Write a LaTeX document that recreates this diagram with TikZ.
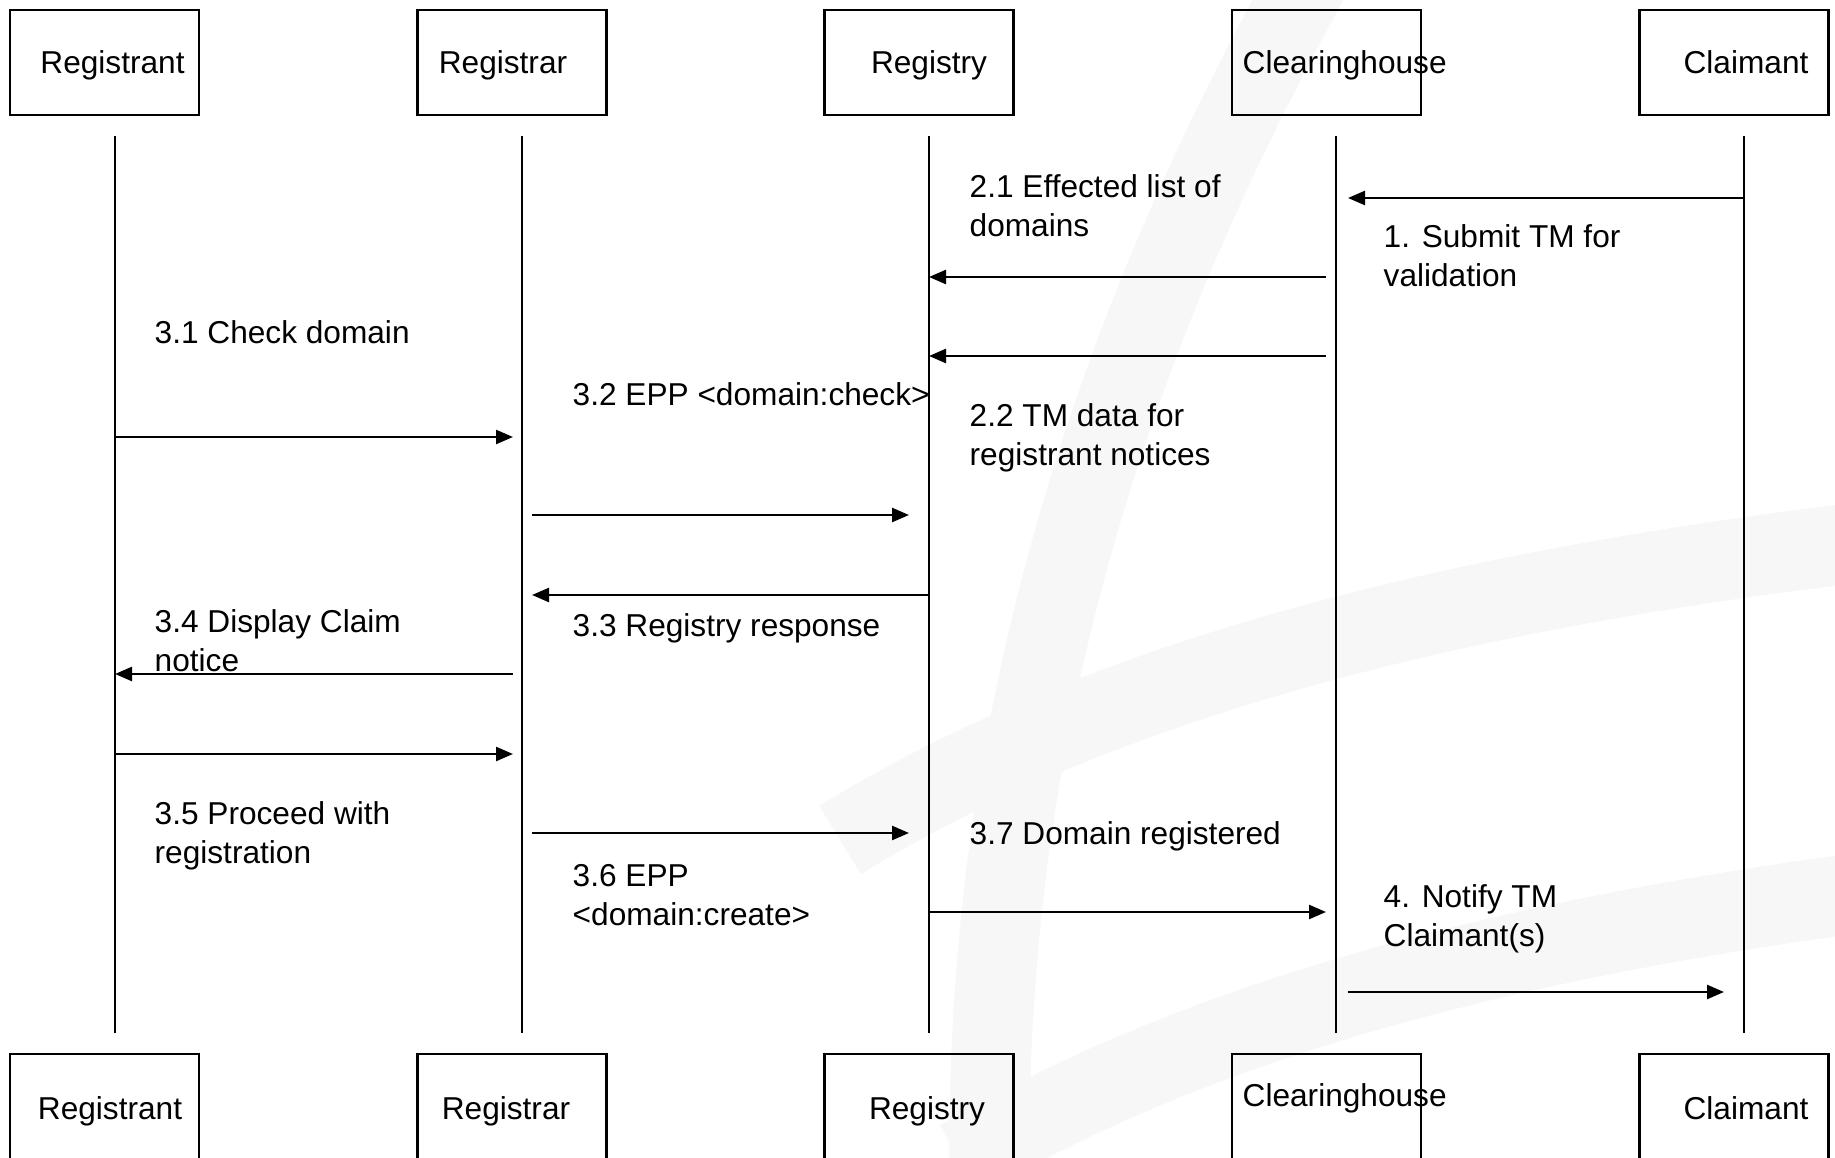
\documentclass[tikz,border=0pt]{standalone}
\usepackage{fontspec}
\setmainfont{Liberation Sans}
\usetikzlibrary{arrows.meta}
\usetikzlibrary{positioning}
\tikzset{
    actor/.style = {rectangle, draw=black, line width=0.7pt, minimum width=1.89cm, minimum height=1.05cm, inner sep=0pt},
    actortext/.style = {anchor=base, inner sep=0pt},
    msgtext/.style = {anchor=base west, align=left, inner sep=0pt},
    lifeline/.style = {line width=0.7pt},
    msg/.style = {-{Triangle[length=1.7mm,width=1.4mm]}, line width=0.7pt},
    watermark/.style = {line width=0.8cm, black!3},
    every picture/.style={font issue=\fontsize{9pt}{11.1pt}},
    font issue/.style={execute at begin picture={#1\selectfont}
  }
}

\begin{document}
\begin{tikzpicture}
\useasboundingbox (0,0) rectangle (18.35,-11.58);
%
\draw[watermark] (13.2,0.4) .. controls (11.0,-3.5) and (9.8,-7.5) .. (9.9,-12.0);
\draw[watermark] (8.4,-8.4) .. controls (11,-6.8) and (14.5,-5.9) .. (18.8,-5.4);
\draw[watermark] (9.6,-11.6) .. controls (12,-10.2) and (15,-9.4) .. (18.8,-8.9);
%
\node[actor] at (1.045, -0.625) (rt) {};
\node[actor] at (5.12, -0.625) (rr) {};
\node[actor] at (9.19, -0.625) (ry) {};
\node[actor] at (13.265, -0.625) (ch) {};
\node[actor] at (17.34, -0.625) (cm) {};
\node[actor] at (1.045, -11.065) (rtb) {};
\node[actor] at (5.12, -11.065) (rrb) {};
\node[actor] at (9.19, -11.065) (ryb) {};
\node[actor] at (13.265, -11.065) (chb) {};
\node[actor] at (17.34, -11.065) (cmb) {};
%
\node[actortext] at (1.125, -0.74) (rtt) {Registrant};
\node[actortext] at (5.03, -0.74) (rrt) {Registrar};
\node[actortext] at (9.29, -0.74) (ryt) {Registry};
\node[actortext, anchor=base west] at (12.42, -0.74) (cht) {Clearinghouse};
\node[actortext] at (17.46, -0.74) (cmt) {Claimant};
\node[actortext] at (1.10, -11.19) (rtbt) {Registrant};
\node[actortext] at (5.06, -11.19) (rrbt) {Registrar};
\node[actortext] at (9.27, -11.19) (rybt) {Registry};
\node[actortext, anchor=base west] at (12.42, -11.06) (chbt) {Clearinghouse};
\node[actortext] at (17.46, -11.19) (cmbt) {Claimant};
%
\coordinate (lrt) at (1.15, -1.36);
\coordinate (lrr) at (5.22, -1.36);
\coordinate (lry) at (9.29, -1.36);
\coordinate (lch) at (13.36, -1.36);
\coordinate (lcm) at (17.44, -1.36);
\draw[lifeline] (lrt) -- ++(0,-8.97);
\draw[lifeline] (lrr) -- ++(0,-8.97);
\draw[lifeline] (lry) -- ++(0,-8.97);
\draw[lifeline] (lch) -- ++(0,-8.97);
\draw[lifeline] (lcm) -- ++(0,-8.97);
%
\draw[msg, shorten >=0.12cm] (lcm |- 0,-1.98) -- (lch |- 0,-1.98);
\draw[msg, shorten <=0.10cm] (lch |- 0,-2.77) -- (lry |- 0,-2.77);
\draw[msg, shorten <=0.10cm] (lch |- 0,-3.56) -- (lry |- 0,-3.56);
\draw[msg, shorten >=0.09cm] (lrt |- 0,-4.37) -- (lrr |- 0,-4.37);
\draw[msg, shorten <=0.10cm, shorten >=0.20cm] (lrr |- 0,-5.15) -- (lry |- 0,-5.15);
\draw[msg, shorten >=0.10cm] (lry |- 0,-5.95) -- (lrr |- 0,-5.95);
\draw[msg, shorten <=0.09cm] (lrr |- 0,-6.74) -- (lrt |- 0,-6.74);
\draw[msg, shorten >=0.09cm] (lrt |- 0,-7.54) -- (lrr |- 0,-7.54);
\draw[msg, shorten <=0.10cm, shorten >=0.20cm] (lrr |- 0,-8.33) -- (lry |- 0,-8.33);
\draw[msg, shorten >=0.10cm] (lry |- 0,-9.12) -- (lch |- 0,-9.12);
\draw[msg, shorten <=0.12cm, shorten >=0.20cm] (lch |- 0,-9.92) -- (lcm |- 0,-9.92);
%
\node[msgtext] at (13.83, -2.87) (t1) {1. Submit TM for\\validation};
\node[msgtext] at (9.69, -2.37) (t21) {2.1 Effected list of\\domains};
\node[msgtext] at (9.69, -4.66) (t22) {2.2 TM data for\\registrant notices};
\node[msgtext] at (1.54, -3.44) (t31) {3.1 Check domain};
\node[msgtext] at (5.72, -4.06) (t32) {3.2 EPP <domain:check>};
\node[msgtext] at (5.72, -6.37) (t33) {3.3 Registry response};
\node[msgtext] at (1.54, -6.72) (t34) {3.4 Display Claim\\notice};
\node[msgtext] at (1.54, -8.64) (t35) {3.5 Proceed with\\registration};
\node[msgtext] at (5.72, -9.26) (t36) {3.6 EPP\\<domain:create>};
\node[msgtext] at (9.69, -8.45) (t37) {3.7 Domain registered};
\node[msgtext] at (13.83, -9.47) (t4) {4. Notify TM\\Claimant(s)};

\end{tikzpicture}
\end{document}
